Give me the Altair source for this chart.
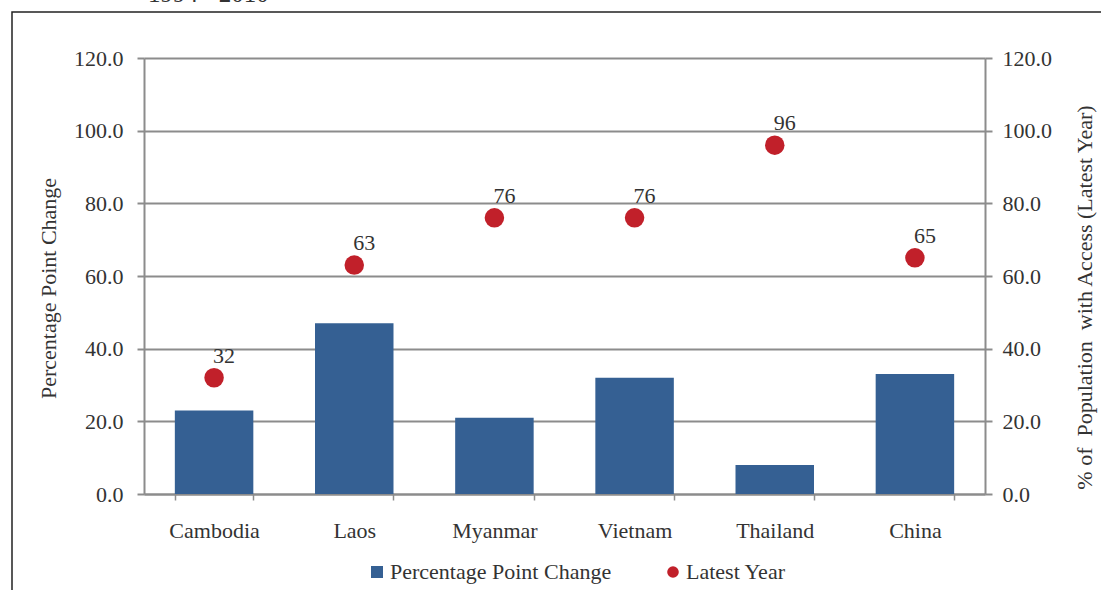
import altair as alt
import pandas as pd

countries = ["Cambodia", "Laos", "Myanmar", "Vietnam", "Thailand", "China"]
pp_change = [23, 47, 21, 32, 8, 33]
latest_year = [32, 63, 76, 76, 96, 65]
y_ticks = [0, 20, 40, 60, 80, 100, 120]
top_text = ["1994 - 2010"]

df = pd.DataFrame({"country": countries, "change": pp_change, "latest": latest_year})

FONT = "Liberation Serif"
BLUE = "#356093"
RED = "#C1202A"
GRAY = "#8c8c8c"
TXT = "#333333"
FS = 22

x_enc = alt.X(
    "country:N",
    sort=countries,
    scale=alt.Scale(paddingInner=0.44, paddingOuter=0.22),
    axis=alt.Axis(
        title=None, labelAngle=0, tickBand="extent", tickSize=6, labelPadding=20,
        domainColor=GRAY, tickColor=GRAY, domainWidth=2, tickWidth=1.5, grid=False,
    ),
)

bars = (
    alt.Chart(df)
    .transform_calculate(series="'Percentage Point Change'")
    .mark_bar(color=BLUE)
    .encode(
        x=x_enc,
        y=alt.Y(
            "change:Q",
            scale=alt.Scale(domain=[0, 120], nice=False),
            axis=alt.Axis(
                orient="left", values=y_ticks, format=".1f",
                title="Percentage Point Change", titleAngle=270, titleX=-96, titleY=230,
                titleBaseline="middle", titleAlign="center",
                grid=True, gridColor=GRAY, gridWidth=2,
                domainColor=GRAY, domainWidth=2, tickColor=GRAY, tickWidth=2,
                tickSize=7, labelPadding=14,
            ),
        ),
        color=alt.Color(
            "series:N",
            scale=alt.Scale(domain=["Percentage Point Change"], range=[BLUE]),
            legend=alt.Legend(
                orient="none", legendX=222, legendY=503, title=None,
                symbolType="square", symbolSize=144, symbolStrokeWidth=0,
                labelOffset=2, padding=0, labelLimit=400,
            ),
        ),
    )
)

pts = (
    alt.Chart(df)
    .transform_calculate(series="'Latest Year'")
    .mark_circle(size=380, opacity=1)
    .encode(
        x=x_enc,
        y=alt.Y(
            "latest:Q",
            scale=alt.Scale(domain=[0, 120], nice=False),
            axis=alt.Axis(
                orient="right", values=y_ticks, format=".1f",
                title="% of\u00a0 Population\u00a0 with Access (Latest Year)",
                titleAngle=270, titleX=99, titleY=239,
                titleBaseline="middle", titleAlign="center",
                grid=False, domainColor=GRAY, domainWidth=2, tickColor=GRAY, tickWidth=2,
                tickSize=7, labelPadding=10,
            ),
        ),
        color=alt.Color(
            "series:N",
            scale=alt.Scale(domain=["Latest Year"], range=[RED]),
            legend=alt.Legend(
                orient="none", legendX=518, legendY=503, title=None,
                symbolType="circle", symbolSize=135, symbolStrokeWidth=0,
                labelOffset=2, padding=0, labelLimit=400,
            ),
        ),
    )
)

labels = (
    alt.Chart(df)
    .mark_text(dx=10, dy=-22, font=FONT, fontSize=FS, color=TXT)
    .encode(
        x=x_enc,
        y=alt.Y("latest:Q", scale=alt.Scale(domain=[0, 120], nice=False), axis=None),
        text=alt.Text("latest:Q", format="d"),
    )
)

frame = (
    alt.Chart(pd.DataFrame({"a": [0]}))
    .mark_rect(fillOpacity=0, stroke="#222222", strokeWidth=1.5)
    .encode(
        x=alt.value(-132), x2=alt.value(1000), y=alt.value(-46), y2=alt.value(600)
    )
)

top = (
    alt.Chart(pd.DataFrame({"t": top_text}))
    .mark_text(align="left", baseline="alphabetic", font=FONT, fontSize=25, color=TXT)
    .encode(x=alt.value(4), y=alt.value(-56), text="t:N")
)

chart = (
    alt.layer(frame, top, bars, pts, labels)
    .resolve_scale(y="independent", color="independent")
    .properties(
        width=841, height=436,
        autosize=alt.AutoSizeParams(type="none"),
        padding={"left": 144, "top": 58, "right": 116, "bottom": 96},
    )
    .configure_view(stroke=None)
    .configure_axis(
        labelFont=FONT, labelFontSize=FS, labelColor=TXT,
        titleFont=FONT, titleFontSize=FS, titleColor=TXT, titleFontWeight="normal",
    )
    .configure_legend(labelFont=FONT, labelFontSize=FS, labelColor=TXT)
)

chart.save("out.html", embed_options={"renderer": "svg", "actions": False})
